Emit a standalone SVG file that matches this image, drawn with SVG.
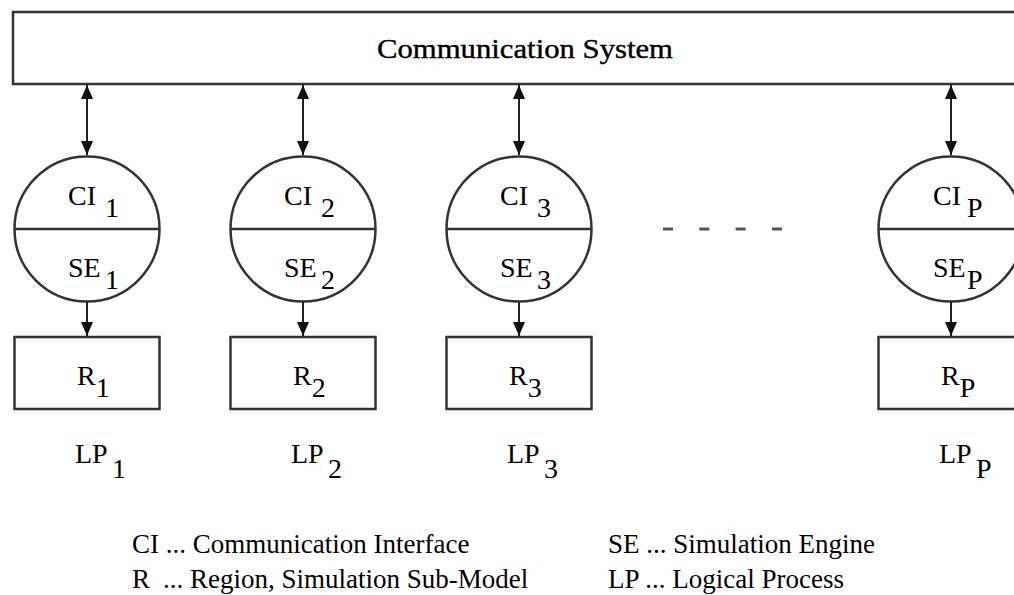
<svg xmlns="http://www.w3.org/2000/svg" width="1014" height="595" viewBox="0 0 1014 595">
<style>
.box{fill:#fff;stroke:#333;stroke-width:2.5}
.ln{stroke:#222;stroke-width:2;fill:none}
.lbl{font-family:"Liberation Serif",serif;font-size:28px;fill:#000}
.leg{font-family:"Liberation Serif",serif;font-size:27px;fill:#000}
</style>
<defs>
<marker id="ah" viewBox="0 0 14 12" refX="14" refY="6" markerWidth="14" markerHeight="12" markerUnits="userSpaceOnUse" orient="auto-start-reverse">
<path d="M0,0 L14,6 L0,12 Z" fill="#111"/>
</marker>
</defs>
<rect width="1014" height="595" fill="#fff"/>
<g id="comm">
<rect class="box" x="13" y="12" width="1030" height="72"/>
<text class="lbl" x="377" y="58" font-size="30" stroke="#000" stroke-width="0.4" textLength="296" lengthAdjust="spacingAndGlyphs">Communication System</text>
</g>
<g id="connectors">
<line class="ln" x1="87" y1="85" x2="87" y2="155" marker-start="url(#ah)" marker-end="url(#ah)"/>
<line class="ln" x1="303" y1="85" x2="303" y2="155" marker-start="url(#ah)" marker-end="url(#ah)"/>
<line class="ln" x1="519" y1="85" x2="519" y2="155" marker-start="url(#ah)" marker-end="url(#ah)"/>
<line class="ln" x1="951" y1="85" x2="951" y2="155" marker-start="url(#ah)" marker-end="url(#ah)"/>
<line class="ln" x1="87" y1="302" x2="87" y2="336" marker-end="url(#ah)"/>
<line class="ln" x1="303" y1="302" x2="303" y2="336" marker-end="url(#ah)"/>
<line class="ln" x1="519" y1="302" x2="519" y2="336" marker-end="url(#ah)"/>
<line class="ln" x1="951" y1="302" x2="951" y2="336" marker-end="url(#ah)"/>
</g>
<g id="lp1">
<circle class="box" cx="87" cy="229" r="72.5"/>
<line class="box" x1="14.5" y1="229" x2="159.5" y2="229"/>
<text class="lbl" x="68" y="205">CI<tspan x="105" y="217">1</tspan></text>
<text class="lbl" x="68" y="277">SE<tspan x="105" y="289">1</tspan></text>
<rect class="box" x="14.5" y="337" width="145" height="72"/>
<text class="lbl" x="77" y="385">R<tspan y="397">1</tspan></text>
<text class="lbl" x="75" y="463">LP<tspan x="112" y="478">1</tspan></text>
</g>
<g id="lp2">
<circle class="box" cx="303" cy="229" r="72.5"/>
<line class="box" x1="230.5" y1="229" x2="375.5" y2="229"/>
<text class="lbl" x="284" y="205">CI<tspan x="321" y="217">2</tspan></text>
<text class="lbl" x="284" y="277">SE<tspan x="321" y="289">2</tspan></text>
<rect class="box" x="230.5" y="337" width="145" height="72"/>
<text class="lbl" x="293" y="385">R<tspan y="397">2</tspan></text>
<text class="lbl" x="291" y="463">LP<tspan x="328" y="478">2</tspan></text>
</g>
<g id="lp3">
<circle class="box" cx="519" cy="229" r="72.5"/>
<line class="box" x1="446.5" y1="229" x2="591.5" y2="229"/>
<text class="lbl" x="500" y="205">CI<tspan x="537" y="217">3</tspan></text>
<text class="lbl" x="500" y="277">SE<tspan x="537" y="289">3</tspan></text>
<rect class="box" x="446.5" y="337" width="145" height="72"/>
<text class="lbl" x="509" y="385">R<tspan y="397">3</tspan></text>
<text class="lbl" x="507" y="463">LP<tspan x="544" y="478">3</tspan></text>
</g>
<g id="dots">
<line x1="663" y1="229" x2="782" y2="229" stroke="#555" stroke-width="3" stroke-dasharray="10 26.3"/>
</g>
<g id="lpP">
<circle class="box" cx="951" cy="229" r="72.5"/>
<line class="box" x1="878.5" y1="229" x2="1023.5" y2="229"/>
<text class="lbl" x="933" y="205">CI<tspan x="967" y="217">P</tspan></text>
<text class="lbl" x="933" y="277">SE<tspan x="967" y="289">P</tspan></text>
<rect class="box" x="878.5" y="337" width="145" height="72"/>
<text class="lbl" x="941" y="385">R<tspan y="397">P</tspan></text>
<text class="lbl" x="939" y="463">LP<tspan x="976" y="478">P</tspan></text>
</g>
<g id="legend">
<text class="leg" x="132" y="553">CI ... Communication Interface</text>
<text class="leg" x="132" y="588">R<tspan x="163">... Region, Simulation Sub-Model</tspan></text>
<text class="leg" x="608" y="553">SE ... Simulation Engine</text>
<text class="leg" x="608" y="588">LP ... Logical Process</text>
</g>
</svg>
